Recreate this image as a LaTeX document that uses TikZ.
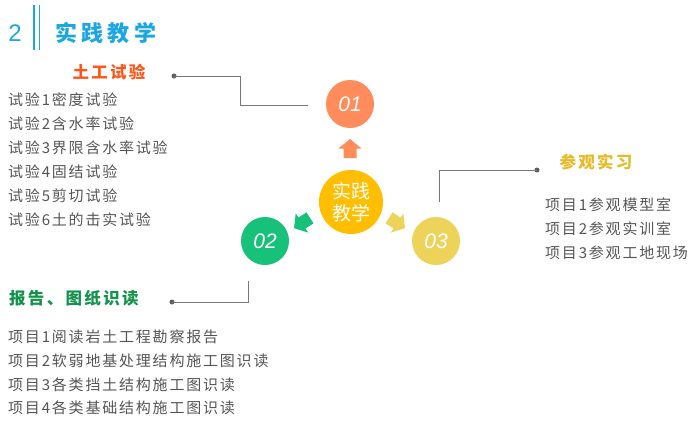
\documentclass[tikz,border=0pt]{standalone}
\usepackage{fontspec}
\setmainfont{Noto Sans CJK SC}
\newfontfamily\itemfont[LetterSpace=12]{Noto Sans CJK SC}
\newfontfamily\headfont[LetterSpace=14]{Noto Sans CJK SC}
\newfontfamily\headwide[LetterSpace=20]{Noto Sans CJK SC}
\newfontfamily\numfont{Liberation Sans}
\definecolor{tblue}{HTML}{1CA6E2}
\definecolor{torange}{HTML}{FF5719}
\definecolor{c01}{HTML}{FF8C5A}
\definecolor{cmid}{HTML}{FFBF00}
\definecolor{c02}{HTML}{17C17A}
\definecolor{c03}{HTML}{EED35A}
\definecolor{tgreen}{HTML}{13924B}
\definecolor{tyellow}{HTML}{E6B925}
\definecolor{lgray}{HTML}{777777}
\definecolor{txt}{HTML}{555555}
\newcommand\parrow[4]{\fill[#4, shift={(#1,#2)}, rotate=#3] (-9.5,-6.5) -- (0,-6.5) -- (0,-11.5) -- (9.5,0) -- (0,11.5) -- (0,6.5) -- (-9.5,6.5) -- cycle;}
\begin{document}
\begin{tikzpicture}[x=1pt,y=-1pt,
  item/.style={anchor=west,inner sep=0pt,text=txt,font=\itemfont\fontsize{15}{16}\selectfont},
  head/.style={inner sep=0pt,font=\headfont\bfseries\fontsize{16.5}{18}\selectfont},
  numc/.style={circle,minimum size=48pt,inner sep=0pt,text=white,font=\numfont\itshape\fontsize{21}{21}\selectfont},
  conn/.style={draw=lgray,line width=0.9pt},
  dotc/.style={circle,fill=lgray!80!black,minimum size=5pt,inner sep=0pt}]
\useasboundingbox (0,0) rectangle (695,423);
% title
\node[text=tblue,font=\numfont\fontsize{24}{24}\selectfont,inner sep=0pt] (num) at (15,33) {2};
\draw[tblue,line width=1.8pt] (34,5) -- (34,50) (39.5,5) -- (39.5,50);
\node[text=tblue,font=\headwide\bfseries\fontsize{22}{22}\selectfont,inner sep=0pt,anchor=west] (title) at (55,33) {实践教学};
% circles
\node[numc,fill=c01] (c1) at (350,104) {01};
\node[numc,fill=c02] (c2) at (265,241) {02};
\node[numc,fill=c03] (c3) at (436,241) {03};
\node[circle,minimum size=64pt,inner sep=0pt,fill=cmid,text=white,align=center,font=\fontsize{19}{22}\selectfont] (mid) at (351,202) {实践\\教学};
% arrows
\parrow{350}{148.5}{90}{c01}
\parrow{302}{223}{213}{c02}
\parrow{397}{223}{327}{c03}
% group 1
\node[head,text=torange] (h1) at (109,72) {土工试验};
\node[dotc] (d1) at (174,76) {};
\coordinate (e1) at (308,105);
\draw[conn] (d1.center) -| (240,105) -- (e1);
\node[item] (t11) at (8,100) {试验1密度试验};
\node[item] (t12) at (8,124) {试验2含水率试验};
\node[item] (t13) at (8,148) {试验3界限含水率试验};
\node[item] (t14) at (8,172) {试验4固结试验};
\node[item] (t15) at (8,196) {试验5剪切试验};
\node[item] (t16) at (8,220) {试验6土的击实试验};
% group 3
\node[head,text=tyellow] (h3) at (596,162) {参观实习};
\node[dotc] (d3) at (537,170) {};
\coordinate (e3) at (439,202);
\draw[conn] (d3.center) -| (e3);
\node[item] (t31) at (545,205) {项目1参观模型室};
\node[item] (t32) at (545,229) {项目2参观实训室};
\node[item] (t33) at (545,253) {项目3参观工地现场};
% group 2
\node[head,text=tgreen,anchor=west] (h2) at (9,298) {报告、图纸识读};
\node[dotc] (d2) at (172,302) {};
\coordinate (e2) at (248,281);
\draw[conn] (d2.center) -| (e2);
\node[item] (t21) at (8,337) {项目1阅读岩土工程勘察报告};
\node[item] (t22) at (8,361) {项目2软弱地基处理结构施工图识读};
\node[item] (t23) at (8,385) {项目3各类挡土结构施工图识读};
\node[item] (t24) at (8,408) {项目4各类基础结构施工图识读};
\end{tikzpicture}
\end{document}
